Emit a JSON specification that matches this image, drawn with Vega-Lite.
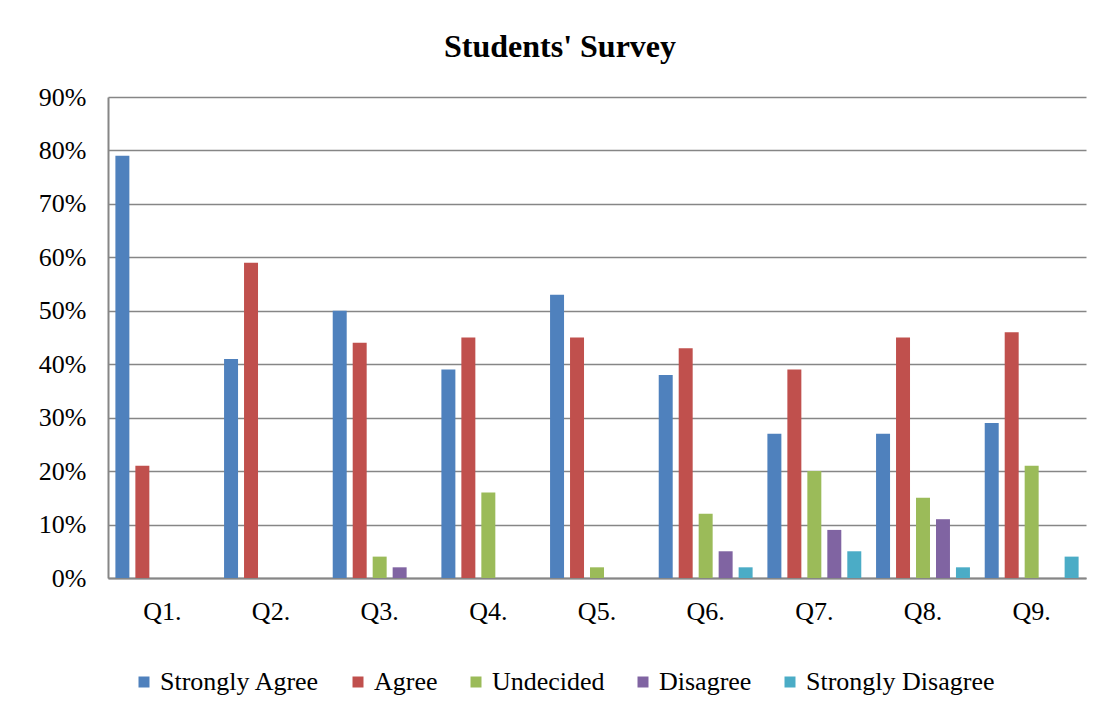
{
  "$schema": "https://vega.github.io/schema/vega-lite/v6.json",
  "autosize": {"type": "none"},
  "width": 978,
  "height": 481,
  "padding": {"left": 108, "top": 97, "right": 24, "bottom": 140},
  "background": "white",
  "title": {
    "text": "Students' Survey",
    "font": "Liberation Serif",
    "fontSize": 32,
    "fontWeight": "bold",
    "color": "black",
    "anchor": "middle",
    "frame": "group",
    "dx": -37,
    "offset": 20
  },
  "data": {
    "values": [
      {"q": "Q1.", "r": "Strongly Agree", "v": 0.79},
      {"q": "Q1.", "r": "Agree", "v": 0.21},
      {"q": "Q1.", "r": "Undecided", "v": 0},
      {"q": "Q1.", "r": "Disagree", "v": 0},
      {"q": "Q1.", "r": "Strongly Disagree", "v": 0},
      {"q": "Q2.", "r": "Strongly Agree", "v": 0.41},
      {"q": "Q2.", "r": "Agree", "v": 0.59},
      {"q": "Q2.", "r": "Undecided", "v": 0},
      {"q": "Q2.", "r": "Disagree", "v": 0},
      {"q": "Q2.", "r": "Strongly Disagree", "v": 0},
      {"q": "Q3.", "r": "Strongly Agree", "v": 0.50},
      {"q": "Q3.", "r": "Agree", "v": 0.44},
      {"q": "Q3.", "r": "Undecided", "v": 0.04},
      {"q": "Q3.", "r": "Disagree", "v": 0.02},
      {"q": "Q3.", "r": "Strongly Disagree", "v": 0},
      {"q": "Q4.", "r": "Strongly Agree", "v": 0.39},
      {"q": "Q4.", "r": "Agree", "v": 0.45},
      {"q": "Q4.", "r": "Undecided", "v": 0.16},
      {"q": "Q4.", "r": "Disagree", "v": 0},
      {"q": "Q4.", "r": "Strongly Disagree", "v": 0},
      {"q": "Q5.", "r": "Strongly Agree", "v": 0.53},
      {"q": "Q5.", "r": "Agree", "v": 0.45},
      {"q": "Q5.", "r": "Undecided", "v": 0.02},
      {"q": "Q5.", "r": "Disagree", "v": 0},
      {"q": "Q5.", "r": "Strongly Disagree", "v": 0},
      {"q": "Q6.", "r": "Strongly Agree", "v": 0.38},
      {"q": "Q6.", "r": "Agree", "v": 0.43},
      {"q": "Q6.", "r": "Undecided", "v": 0.12},
      {"q": "Q6.", "r": "Disagree", "v": 0.05},
      {"q": "Q6.", "r": "Strongly Disagree", "v": 0.02},
      {"q": "Q7.", "r": "Strongly Agree", "v": 0.27},
      {"q": "Q7.", "r": "Agree", "v": 0.39},
      {"q": "Q7.", "r": "Undecided", "v": 0.20},
      {"q": "Q7.", "r": "Disagree", "v": 0.09},
      {"q": "Q7.", "r": "Strongly Disagree", "v": 0.05},
      {"q": "Q8.", "r": "Strongly Agree", "v": 0.27},
      {"q": "Q8.", "r": "Agree", "v": 0.45},
      {"q": "Q8.", "r": "Undecided", "v": 0.15},
      {"q": "Q8.", "r": "Disagree", "v": 0.11},
      {"q": "Q8.", "r": "Strongly Disagree", "v": 0.02},
      {"q": "Q9.", "r": "Strongly Agree", "v": 0.29},
      {"q": "Q9.", "r": "Agree", "v": 0.46},
      {"q": "Q9.", "r": "Undecided", "v": 0.21},
      {"q": "Q9.", "r": "Disagree", "v": 0},
      {"q": "Q9.", "r": "Strongly Disagree", "v": 0.04}
    ]
  },
  "mark": {"type": "bar"},
  "encoding": {
    "x": {
      "field": "q",
      "type": "nominal",
      "sort": null,
      "scale": {"paddingInner": 0, "paddingOuter": 0},
      "axis": {
        "title": null,
        "labelAngle": 0,
        "ticks": false,
        "labelPadding": 20,
        "labelFont": "Liberation Serif",
        "labelFontSize": 26,
        "labelColor": "black",
        "domainColor": "#868686",
        "domainWidth": 2,
        "grid": false
      }
    },
    "xOffset": {
      "field": "r",
      "type": "nominal",
      "sort": ["Strongly Agree", "Agree", "Undecided", "Disagree", "Strongly Disagree"],
      "scale": {"paddingInner": 0.3, "paddingOuter": 0.37}
    },
    "y": {
      "field": "v",
      "type": "quantitative",
      "scale": {"domain": [0, 0.9], "nice": false},
      "axis": {
        "title": null,
        "format": ".0%",
        "values": [0, 0.1, 0.2, 0.3, 0.4, 0.5, 0.6, 0.7, 0.8, 0.9],
        "ticks": false,
        "labelPadding": 22,
        "labelFont": "Liberation Serif",
        "labelFontSize": 26,
        "labelColor": "black",
        "domainColor": "#868686",
        "domainWidth": 2,
        "gridColor": "#868686",
        "gridWidth": 1.5
      }
    },
    "color": {
      "field": "r",
      "type": "nominal",
      "sort": ["Strongly Agree", "Agree", "Undecided", "Disagree", "Strongly Disagree"],
      "scale": {
        "domain": ["Strongly Agree", "Agree", "Undecided", "Disagree", "Strongly Disagree"],
        "range": ["#4F81BD", "#C0504D", "#9BBB59", "#8064A2", "#4BACC6"]
      },
      "legend": {
        "title": null,
        "orient": "none",
        "direction": "horizontal",
        "legendX": 23,
        "legendY": 572,
        "symbolType": "square",
        "symbolSize": 121,
        "symbolStrokeWidth": 0,
        "labelFont": "Liberation Serif",
        "labelFontSize": 26,
        "labelColor": "black",
        "labelOffset": 3,
        "labelLimit": 400,
        "columnPadding": 25
      }
    }
  },
  "config": {
    "view": {"stroke": null}
  }
}
